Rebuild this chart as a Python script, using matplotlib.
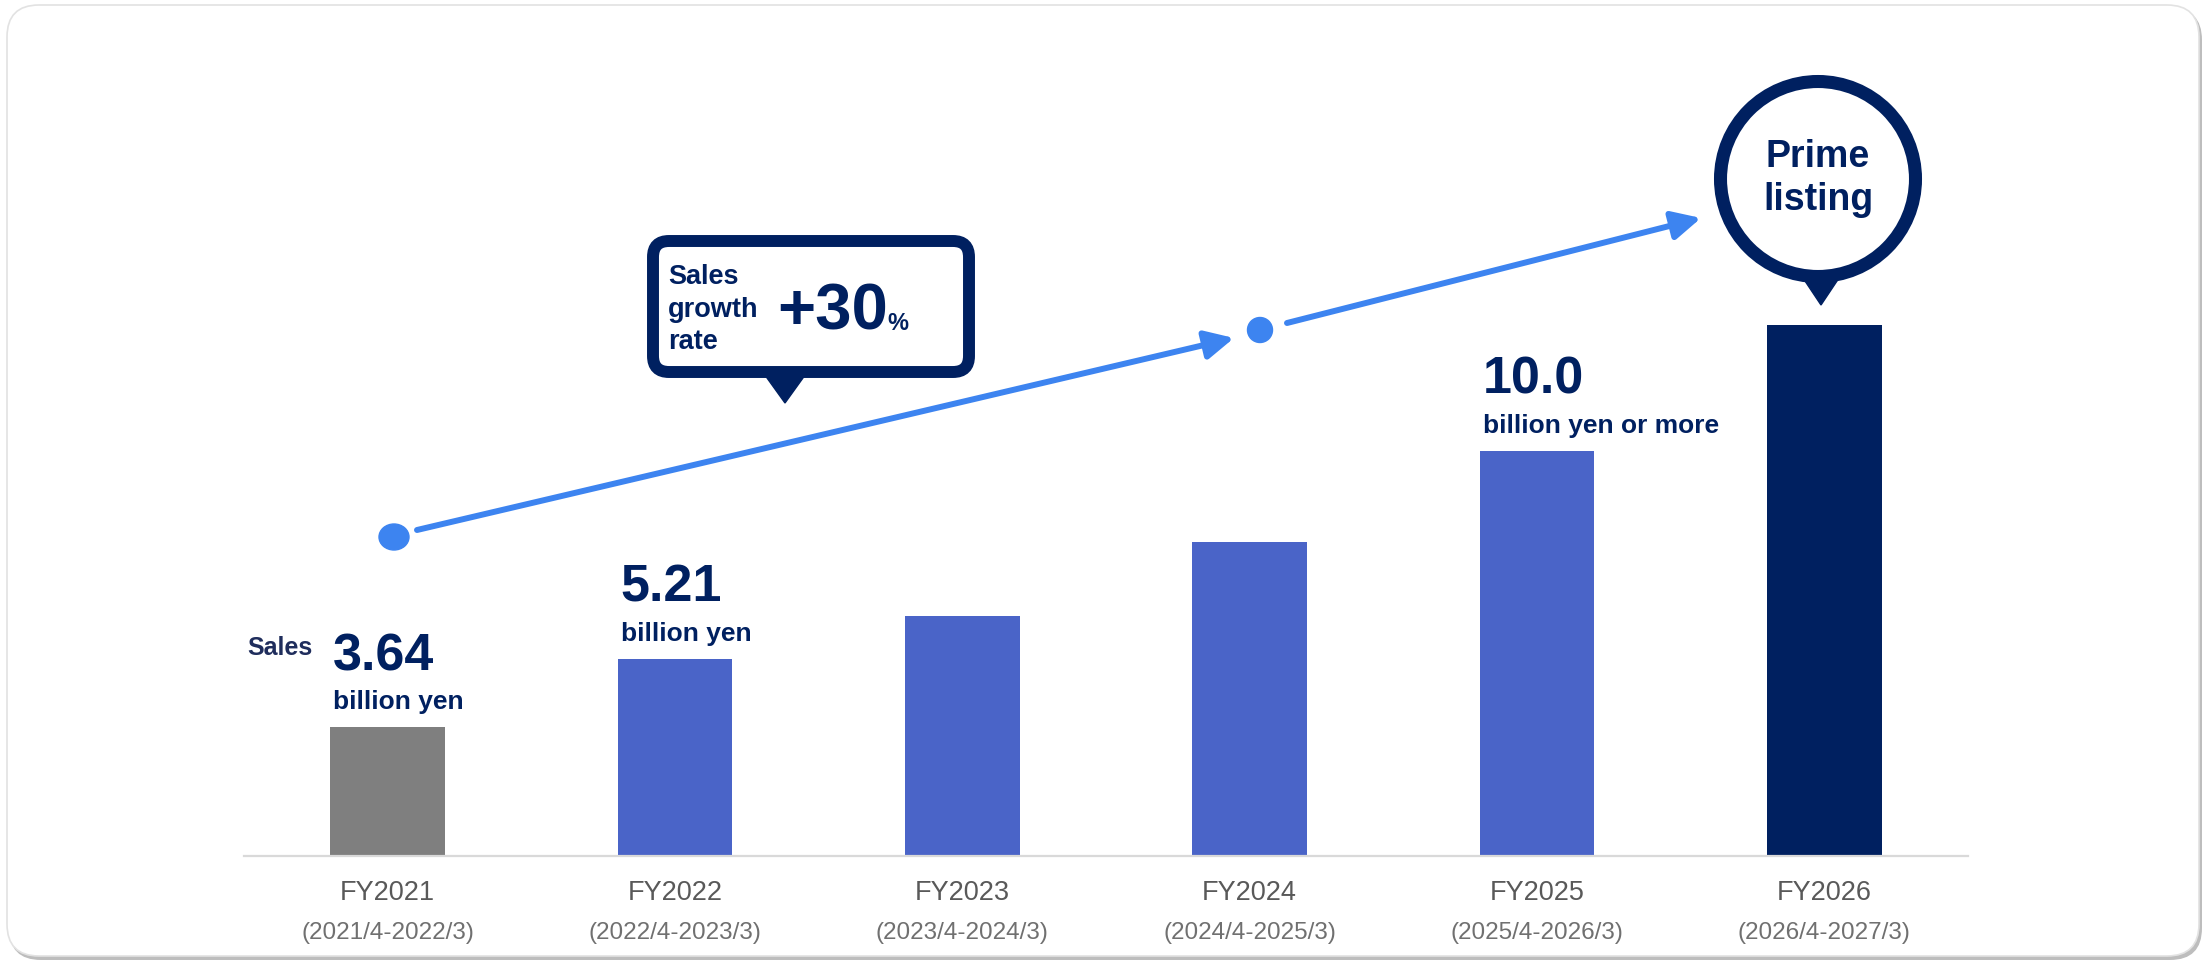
import matplotlib
matplotlib.use("Agg")
import matplotlib.pyplot as plt
from matplotlib import transforms
from matplotlib.patches import FancyBboxPatch, Circle, Ellipse, Polygon

plt.rcParams['font.family'] = ['Liberation Sans', 'DejaVu Sans']

# sales by fiscal year (billion yen)
years = ['FY2021', 'FY2022', 'FY2023', 'FY2024', 'FY2025', 'FY2026']
periods = ['(2021/4-2022/3)', '(2022/4-2023/3)', '(2023/4-2024/3)',
           '(2024/4-2025/3)', '(2025/4-2026/3)', '(2026/4-2027/3)']
sales = [3.64, 5.21, 6.2, 7.9, 10.0, 12.9]
value_text = ['3.64', '5.21', None, None, '10.0', None]
unit_text = ['billion yen', 'billion yen', None, None, 'billion yen or more', None]
growth_text = '+30'
goal_text = ['Prime', 'listing']

NAVY = '#002060'
BLUE = '#4a64c8'
GREY = '#7f7f7f'
ARROW = '#3d84f0'
bar_colors = [GREY, BLUE, BLUE, BLUE, BLUE, NAVY]

W, H = 2211, 961
fig = plt.figure(figsize=(W / 100, H / 100), dpi=100)

# card background with a soft shadow
bg = fig.add_axes([0, 0, 1, 1])
bg.set_xlim(0, W)
bg.set_ylim(H, 0)
bg.axis('off')
bg.add_patch(FancyBboxPatch((9, 8), 2193, 952, boxstyle='round,pad=0,rounding_size=32',
                            fc='#bdbdbd', ec='none'))
bg.add_patch(FancyBboxPatch((7, 5), 2192, 951, boxstyle='round,pad=0,rounding_size=32',
                            fc='white', ec='#e2e2e2', lw=1.2))

# bar chart
base_px = 856
ax = fig.add_axes([244 / W, 1 - base_px / H, 1724 / W, (base_px - 60) / H])
ax.set_facecolor('none')
bar_w = 0.4
x = list(range(len(years)))
ax.bar(x, sales, width=bar_w, color=bar_colors, zorder=2)
ax.set_xlim(-0.5, 5.5)
ax.set_ylim(0.67, 19.0)
for s in ['left', 'right', 'top']:
    ax.spines[s].set_visible(False)
ax.spines['bottom'].set_color('#d9d9d9')
ax.spines['bottom'].set_linewidth(1.6)
ax.set_xticks([])
ax.set_yticks([])

below = transforms.blended_transform_factory(ax.transData, ax.transAxes)
for i in x:
    ax.text(i, 0, years[i], ha='center', va='center', fontsize=19.5, color='#595959',
            transform=transforms.offset_copy(below, fig=fig, y=-37, units='dots'))
    ax.text(i, 0, periods[i], ha='center', va='center', fontsize=17.5, color='#707070',
            transform=transforms.offset_copy(below, fig=fig, y=-77, units='dots'))

for i in x:
    if value_text[i] is None:
        continue
    left = i - bar_w / 2
    ax.text(left, sales[i], value_text[i], ha='left', va='baseline', fontsize=37.5,
            fontweight='bold', color=NAVY,
            transform=transforms.offset_copy(ax.transData, fig=fig, x=3, y=57, units='dots'))
    ax.text(left, sales[i], unit_text[i], ha='left', va='baseline', fontsize=19,
            fontweight='bold', color=NAVY,
            transform=transforms.offset_copy(ax.transData, fig=fig, x=3, y=18, units='dots'))

ax.text(-bar_w / 2, sales[0], 'Sales', ha='right', va='baseline', fontsize=18,
        fontweight='bold', color='#1f2d5c',
        transform=transforms.offset_copy(ax.transData, fig=fig, x=-18, y=72, units='dots'))

# overlay: growth arrows and call-outs, in pixel units
deco = fig.add_axes([0, 0, 1, 1])
deco.set_xlim(0, W)
deco.set_ylim(H, 0)
deco.axis('off')
deco.patch.set_alpha(0)

deco.add_patch(Ellipse((394, 537), 30, 26, color=ARROW))
deco.add_patch(Circle((1260, 330), 12.5, color=ARROW))
for start, tip in [((417, 530), (1234, 338)), ((1287, 323), (1701, 218))]:
    deco.annotate('', xy=tip, xytext=start,
                  arrowprops=dict(arrowstyle='-|>', lw=4.3, color=ARROW,
                                  mutation_scale=43, shrinkA=0, shrinkB=0))

# growth rate call-out
deco.add_patch(FancyBboxPatch((653, 241), 316, 131, boxstyle='round,pad=0,rounding_size=16',
                              fc='white', ec=NAVY, lw=8.6))
deco.add_patch(Polygon([(762, 371), (808, 371), (785, 403)], closed=True, color=NAVY))
for txt, yb in zip(['Sales', 'growth', 'rate'], [284, 317, 349]):
    deco.text(668, yb, txt, ha='left', va='baseline', fontsize=19.5, fontweight='bold', color=NAVY)
deco.text(777, 330, growth_text, ha='left', va='baseline', fontsize=47,
          fontweight='bold', color=NAVY)
deco.text(887, 330, '%', ha='left', va='baseline', fontsize=17, fontweight='bold', color=NAVY)

# listing goal call-out
deco.add_patch(Polygon([(1799, 272), (1843, 272), (1821, 305)], closed=True, color=NAVY))
deco.add_patch(Circle((1818, 179), 97.5, fc='white', ec=NAVY, lw=9.4))
deco.text(1818, 167, goal_text[0], ha='center', va='baseline', fontsize=27,
          fontweight='bold', color=NAVY)
deco.text(1818, 210, goal_text[1], ha='center', va='baseline', fontsize=27,
          fontweight='bold', color=NAVY)

fig.savefig('out.png', dpi=100)
